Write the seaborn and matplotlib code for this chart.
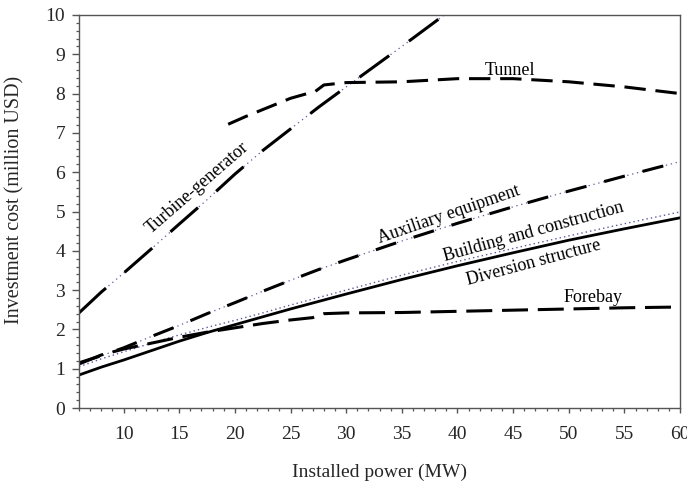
import matplotlib
matplotlib.use("Agg")
import matplotlib.pyplot as plt
from matplotlib.ticker import MultipleLocator
import seaborn as sns

# Installed power grid (MW) shared by most cost curves
power_mw = [6, 8, 10, 12.5, 15, 17.5, 20, 22.5, 25, 27.5, 30, 35, 40, 45, 50, 55, 60]

# Investment cost (million USD)
diversion = [0.84, 1.04, 1.22, 1.46, 1.70, 1.92, 2.12, 2.32, 2.52, 2.71, 2.90,
             3.27, 3.62, 3.95, 4.27, 4.56, 4.84]
building = [1.05, 1.25, 1.43, 1.65, 1.86, 2.05, 2.23, 2.42, 2.62, 2.81, 3.00,
            3.38, 3.73, 4.06, 4.38, 4.69, 4.99]
auxiliary = [1.15, 1.33, 1.53, 1.82, 2.10, 2.40, 2.68, 2.97, 3.25, 3.52, 3.77,
             4.25, 4.70, 5.12, 5.52, 5.90, 6.27]

turbine_power = [6, 8, 10, 12.5, 15, 17.5, 20, 22.5, 25, 27.5, 30, 35, 40]
turbine = [2.42, 2.95, 3.43, 4.05, 4.68, 5.30, 5.95, 6.55, 7.10, 7.65, 8.17, 9.20, 10.25]

tunnel_power = [19.4, 21, 23, 25, 26.5, 27.2, 28, 30, 35, 40, 45, 50, 55, 60]
tunnel = [7.22, 7.42, 7.65, 7.88, 8.00, 8.05, 8.22, 8.28, 8.30, 8.38, 8.38, 8.30, 8.17, 8.00]

forebay_power = [6, 8, 10, 12.5, 15, 17.5, 20, 22.5, 25, 27, 28, 30, 35, 40, 45, 50, 55, 60]
forebay = [1.12, 1.35, 1.50, 1.65, 1.80, 1.93, 2.04, 2.15, 2.24, 2.30, 2.40, 2.42,
           2.43, 2.46, 2.49, 2.52, 2.55, 2.57]

x_ticks = [10, 15, 20, 25, 30, 35, 40, 45, 50, 55, 60]
y_ticks = list(range(0, 11))

sns.set_style("white")
plt.rcParams["font.family"] = ["Liberation Serif", "DejaVu Serif"]

fig = plt.figure(figsize=(6.87, 4.82), dpi=100)
ax = fig.add_axes([0.115, 0.1535, 0.875, 0.8154])

DOT_COLOR = "#5a5a9c"


def dash_dot_dot(x, y, dash, gap):
    # thin dotted trace underneath, heavy dashes on top
    sns.lineplot(x=x, y=y, ax=ax, color=DOT_COLOR, lw=0.9,
                 linestyle=(0, (1, 3)), sort=False, errorbar=None)
    sns.lineplot(x=x, y=y, ax=ax, color="black", lw=2.2,
                 linestyle=(0, (dash, gap)), sort=False, errorbar=None)


dash_dot_dot(turbine_power, turbine, 12, 8)
dash_dot_dot(power_mw, auxiliary, 7, 6)

sns.lineplot(x=tunnel_power, y=tunnel, ax=ax, color="black", lw=2.2,
             linestyle=(0, (7, 3.2)), sort=False, errorbar=None)
sns.lineplot(x=power_mw, y=building, ax=ax, color=DOT_COLOR, lw=1.0,
             linestyle=(0, (1, 2.2)), sort=False, errorbar=None)
sns.lineplot(x=power_mw, y=diversion, ax=ax, color="black", lw=2.0,
             linestyle="-", sort=False, errorbar=None)
sns.lineplot(x=forebay_power, y=forebay, ax=ax, color="black", lw=2.2,
             linestyle=(0, (8.5, 3.2)), sort=False, errorbar=None)

ax.set_xlim(6, 60)
ax.set_ylim(0, 10)
ax.set_xticks(x_ticks)
ax.set_yticks(y_ticks)
ax.xaxis.set_minor_locator(MultipleLocator(1))
ax.yaxis.set_minor_locator(MultipleLocator(0.2))

spine_color = "#555555"
for s in ax.spines.values():
    s.set_color(spine_color)
    s.set_linewidth(1.0)
ax.tick_params(which="major", direction="out", width=1.0, color=spine_color,
               labelsize=14, bottom=True, left=True)
ax.tick_params(which="minor", direction="out", length=2.2, width=0.9,
               color=spine_color, bottom=True, left=True)
ax.tick_params(axis="y", which="major", length=5, pad=5)
ax.tick_params(axis="x", which="major", length=3.6, pad=9)

ax.set_xlabel("Installed power (MW)", fontsize=14, va="center")
ax.set_ylabel("Investment cost (million USD)", fontsize=14.5, va="center")
ax.xaxis.set_label_coords(0.5, -0.163)
ax.yaxis.set_label_coords(-0.1065, 0.529)

lab = dict(fontsize=13, color="black", ha="center", va="center")
ax.text(16.6, 5.6, "Turbine-generator", rotation=41, **lab)
ax.text(44.7, 8.6, "Tunnel", **lab)
ax.text(39.2, 4.93, "Auxiliary equipment", rotation=19, **lab)
ax.text(46.8, 4.48, "Building and construction", rotation=15.5, **lab)
ax.text(46.8, 3.69, "Diversion structure", rotation=15, **lab)
ax.text(52.2, 2.82, "Forebay", **lab)

fig.savefig("out.png", dpi=100)
